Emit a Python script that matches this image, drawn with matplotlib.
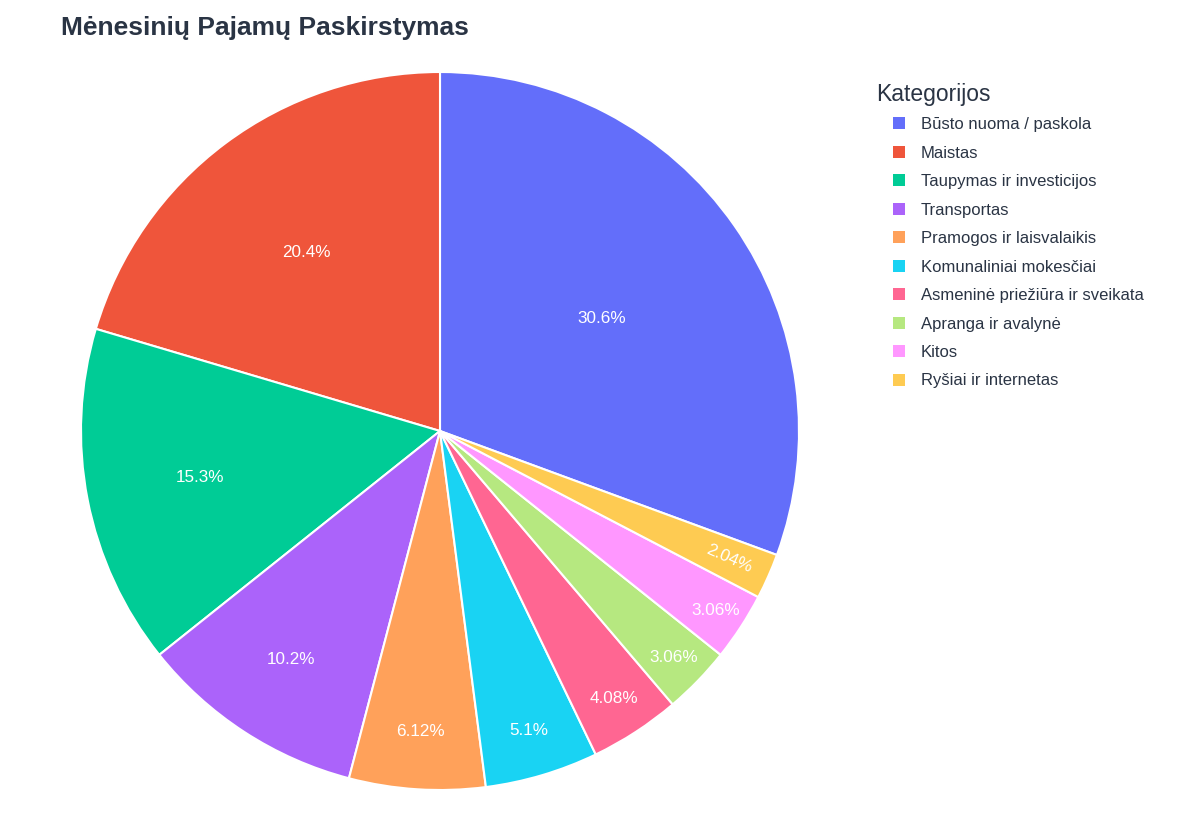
import matplotlib
matplotlib.use("Agg")
import matplotlib.pyplot as plt
import numpy as np

categories = ["Būsto nuoma / paskola", "Maistas", "Taupymas ir investicijos",
              "Transportas", "Pramogos ir laisvalaikis", "Komunaliniai mokesčiai",
              "Asmeninė priežiūra ir sveikata", "Apranga ir avalynė", "Kitos",
              "Ryšiai ir internetas"]
values = [30, 20, 15, 10, 6, 5, 4, 3, 3, 2]
colors = ["#636EFA", "#EF553B", "#00CC96", "#AB63FA", "#FFA15A",
          "#19D3F3", "#FF6692", "#B6E880", "#FF97FF", "#FECB52"]
title = "Mėnesinių Pajamų Paskirstymas"
legend_title = "Kategorijos"

# label radial positions (layout)
label_r = [0.55, 0.62, 0.68, 0.76, 0.84, 0.87, 0.89, 0.905, 0.915, 0.88]
radial_rot = [False] * 9 + [True]

plt.rcParams['font.family'] = ['Liberation Sans', 'DejaVu Sans']

W, H = 1200, 840
fig = plt.figure(figsize=(W / 100, H / 100), dpi=100)
fig.patch.set_facecolor("white")

cx, cy, R = 440, 431, 359
ax = fig.add_axes([(cx - R) / W, (H - cy - R) / H, 2 * R / W, 2 * R / H])
total = sum(values)
start = 90 - 360 * values[0] / total
wedges, _ = ax.pie(values, colors=colors, startangle=start, counterclock=True,
                   radius=1, wedgeprops=dict(edgecolor="white", linewidth=1.5))
ax.set_xlim(-1, 1)
ax.set_ylim(-1, 1)
ax.set_aspect("equal")
ax.axis("off")

for w, v, r, rot in zip(wedges, values, label_r, radial_rot):
    mid = (w.theta1 + w.theta2) / 2
    x = r * np.cos(np.radians(mid))
    y = r * np.sin(np.radians(mid))
    pct = 100 * v / total
    txt = f"{pct:.3g}%"
    ax.text(x, y, txt, ha="center", va="center", color="white", fontsize=12.3,
            rotation=mid if rot else 0, rotation_mode="anchor")

fig.text(61 / W, 1 - 28 / H, title, fontsize=19, fontweight="bold",
         color="#2a3444", ha="left", va="center")

fig.text(876 / W, 1 - 95 / H, legend_title, fontsize=16.5, color="#2a3444",
         ha="left", va="center")
leg = fig.legend(wedges, categories, loc="upper left",
                 bbox_to_anchor=(893 / W, 1 - 117 / H), frameon=False,
                 fontsize=12, handlelength=0.72, handleheight=0.72,
                 handletextpad=0.95, labelspacing=0.81, borderpad=0,
                 borderaxespad=0)
for t in leg.get_texts():
    t.set_color("#2a3444")
for h in leg.legend_handles:
    h.set_edgecolor("none")

fig.savefig("out.png", dpi=100)
